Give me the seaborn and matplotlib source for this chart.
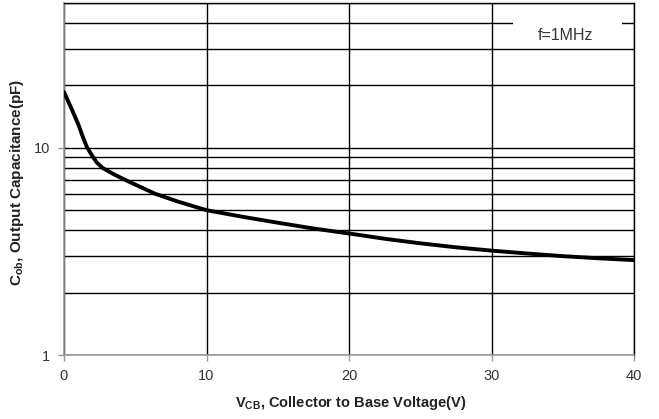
import matplotlib
matplotlib.use("Agg")
import matplotlib.pyplot as plt
import seaborn as sns
import pandas as pd
from matplotlib.patches import Rectangle
from matplotlib.ticker import LogLocator, NullFormatter, FixedLocator

# data
vcb = [0, 0.5, 1, 1.3, 1.6, 2, 2.3, 2.7, 3.5, 4.3, 5.3, 6.4, 8, 10, 12.5, 15, 17.5, 20, 22.5, 25, 27.5, 30, 32.5, 35, 37.5, 40]
cob = [18.6, 15.6, 13.0, 11.4, 10.1, 9.1, 8.5, 8.0, 7.45, 7.0, 6.5, 6.0, 5.5, 5.0, 4.65, 4.35, 4.08, 3.86, 3.64, 3.46, 3.31, 3.19, 3.09, 3.0, 2.93, 2.87]
x_ticks = [0, 10, 20, 30, 40]
y_ticks = [1, 10]
y_tick_labels = ["1", "10"]
note_text = "f=1MHz"
x_label = r"V$_{\mathbf{CB}}$, Collector to Base Voltage(V)"
y_label = r"C$_{\mathbf{ob}}$, Output Capacitance(pF)"

sns.set_style("white")
plt.rcParams["font.family"] = ["Liberation Sans", "DejaVu Sans"]
plt.rcParams["mathtext.fontset"] = "custom"
plt.rcParams["mathtext.rm"] = "Liberation Sans"
plt.rcParams["mathtext.bf"] = "Liberation Sans:bold"

df = pd.DataFrame({"VCB": vcb, "Cob": cob})

fig = plt.figure(figsize=(6.59, 4.19), dpi=100)
ax = fig.add_axes([64 / 659, 1 - 355 / 419, 570 / 659, 352 / 419])

sns.lineplot(data=df, x="VCB", y="Cob", ax=ax, color="black", linewidth=2.8, zorder=5)

ax.set_yscale("log")
ax.set_xlim(0, 40)
ax.set_ylim(1, 50)

ax.xaxis.set_major_locator(FixedLocator(x_ticks))
ax.set_xticklabels([str(t) for t in x_ticks])
ax.yaxis.set_major_locator(FixedLocator(y_ticks))
ax.set_yticklabels(y_tick_labels)
ax.yaxis.set_minor_locator(LogLocator(base=10, subs=range(2, 10)))
ax.yaxis.set_minor_formatter(NullFormatter())

ax.grid(True, which="major", axis="x", color="black", linewidth=1.0)
ax.grid(True, which="both", axis="y", color="black", linewidth=1.0)
ax.set_axisbelow(True)

ax.tick_params(axis="both", which="major", direction="out", length=4, width=1,
               color="#999999", labelsize=10.5, pad=6, labelcolor="#333333")
ax.tick_params(axis="y", which="minor", length=0)
ax.tick_params(axis="x", bottom=True)
ax.tick_params(axis="y", left=True)

for s in ["left", "bottom"]:
    ax.spines[s].set_color("#999999")
    ax.spines[s].set_linewidth(1.2)
for s in ["top", "right"]:
    ax.spines[s].set_color("black")
    ax.spines[s].set_linewidth(1.0)

ax.set_xlabel(x_label, fontsize=10.5, fontweight="bold", color="#222222")
ax.set_ylabel(y_label, fontsize=11, fontweight="bold", color="#222222")
ax.xaxis.set_label_coords(0.502, -0.112)
ax.yaxis.set_label_coords(-0.066, 0.49)

# white box behind the note
ax.add_patch(Rectangle((0.788, 0.88), 0.191, 0.095, transform=ax.transAxes,
                       facecolor="white", edgecolor="none", zorder=3))
ax.text(0.879, 0.909, note_text, transform=ax.transAxes, ha="center", va="center",
        fontsize=11.5, color="#333333", zorder=4)

fig.savefig("out.png", dpi=100)
